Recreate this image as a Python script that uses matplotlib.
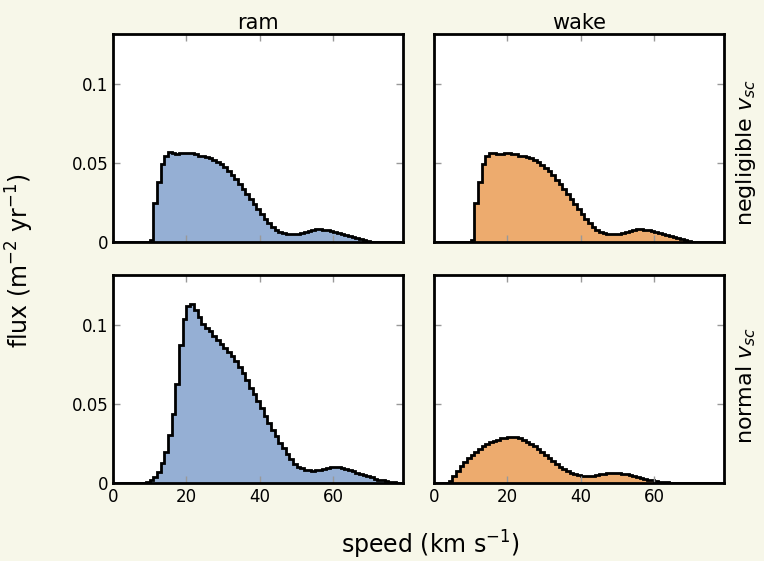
import numpy as np
import matplotlib
matplotlib.use('Agg')
import matplotlib.pyplot as plt

# flux per 1 km/s speed bin, bins start at 0 km/s
flux_neg_ram = [0, 0, 0, 0, 0, 0, 0, 0, 0, 0,
                0.001, 0.0245, 0.038, 0.049, 0.0545, 0.0565, 0.056, 0.0558, 0.056, 0.0562,
                0.0562, 0.056, 0.0555, 0.0545, 0.054, 0.0537, 0.053, 0.052, 0.0507, 0.049,
                0.0472, 0.045, 0.042, 0.0395, 0.0365, 0.0335, 0.030, 0.027, 0.024, 0.021,
                0.0175, 0.0145, 0.0118, 0.0093, 0.0075, 0.0062, 0.0055, 0.005, 0.0048, 0.0048,
                0.005, 0.0055, 0.0062, 0.0072, 0.0078, 0.008, 0.008, 0.0078, 0.0075, 0.007,
                0.0066, 0.006, 0.0053, 0.0046, 0.0038, 0.003, 0.0023, 0.0016, 0.001, 0.0006,
                0.0003, 0.0001, 0, 0, 0, 0, 0, 0, 0]
flux_neg_wake = [0, 0, 0, 0, 0, 0, 0, 0, 0, 0,
                 0.001, 0.0245, 0.038, 0.049, 0.0545, 0.0562, 0.056, 0.0558, 0.0558, 0.056,
                 0.056, 0.0558, 0.0553, 0.0545, 0.054, 0.0535, 0.0528, 0.0518, 0.0505, 0.0488,
                 0.047, 0.0448, 0.042, 0.0393, 0.0363, 0.0333, 0.030, 0.027, 0.024, 0.021,
                 0.0175, 0.0145, 0.0118, 0.0093, 0.0075, 0.0062, 0.0055, 0.005, 0.0048, 0.0048,
                 0.005, 0.0055, 0.0062, 0.0072, 0.0078, 0.008, 0.008, 0.0078, 0.0075, 0.007,
                 0.0066, 0.006, 0.0053, 0.0046, 0.0038, 0.003, 0.0023, 0.0016, 0.001, 0.0006,
                 0.0003, 0.0001, 0, 0, 0, 0, 0, 0, 0]
flux_norm_ram = [0, 0, 0, 0, 0, 0, 0, 0, 0, 0.0005,
                 0.002, 0.004, 0.007, 0.0125, 0.0198, 0.030, 0.0437, 0.0627, 0.0873, 0.1036,
                 0.1116, 0.113, 0.1095, 0.105, 0.1005, 0.098, 0.096, 0.093, 0.0905, 0.0875,
                 0.085, 0.0825, 0.080, 0.077, 0.0735, 0.0695, 0.065, 0.060, 0.056, 0.0515,
                 0.0473, 0.0425, 0.0378, 0.0335, 0.0297, 0.0255, 0.022, 0.0185, 0.015, 0.012,
                 0.0102, 0.0092, 0.0084, 0.008, 0.0078, 0.008, 0.0085, 0.009, 0.0097, 0.0101,
                 0.0103, 0.0101, 0.0097, 0.009, 0.0082, 0.0074, 0.0066, 0.0058, 0.005, 0.0043,
                 0.0035, 0.0028, 0.0021, 0.0016, 0.0011, 0.0008, 0.0005, 0.0003, 0.0002]
flux_norm_wake = [0, 0, 0, 0, 0.001, 0.0044, 0.0078, 0.0108, 0.013, 0.0155,
                  0.0175, 0.0195, 0.0215, 0.0232, 0.0246, 0.0257, 0.0266, 0.0274, 0.0281, 0.0287,
                  0.0291, 0.0293, 0.0289, 0.0282, 0.0272, 0.0262, 0.0248, 0.0232, 0.0215, 0.0197,
                  0.0178, 0.0158, 0.0139, 0.012, 0.0103, 0.0088, 0.0075, 0.0064, 0.0056, 0.005,
                  0.0046, 0.0044, 0.0044, 0.0046, 0.005, 0.0055, 0.0059, 0.0062, 0.0064, 0.0065,
                  0.0063, 0.006, 0.0055, 0.005, 0.0044, 0.0038, 0.0032, 0.0026, 0.0021, 0.0016,
                  0.0012, 0.0009, 0.0006, 0.0004, 0.0002, 0, 0, 0, 0, 0,
                  0, 0, 0, 0, 0, 0, 0, 0, 0]

col_titles = ['ram', 'wake']
row_titles = ['negligible $v_{sc}$', 'normal $v_{sc}$']
row_label_y = [0.43, 0.47]
colors = ['#95afd4', '#edab6e']
bg = '#f7f7e9'

plt.rcParams['mathtext.fontset'] = 'dejavusans'
plt.rcParams['font.family'] = 'DejaVu Sans'

fig = plt.figure(figsize=(7.64, 5.61), dpi=100, facecolor=bg)

lefts = [0.148, 0.568]
bottoms = [0.5686, 0.139]
w, h = 0.3796, 0.37

data = [[flux_neg_ram, flux_neg_wake], [flux_norm_ram, flux_norm_wake]]

for r in range(2):
    for c in range(2):
        ax = fig.add_axes([lefts[c], bottoms[r], w, h])
        vals = np.array(data[r][c])
        edges = np.arange(len(vals) + 1)
        ax.stairs(vals, edges, fill=True, color=colors[c], lw=0)
        ax.stairs(vals, edges, color='black', lw=2)
        ax.set_xlim(0, 79)
        ax.set_ylim(0, 0.131)
        ax.set_xticks([0, 20, 40, 60])
        ax.set_yticks([0, 0.05, 0.1])
        ax.set_yticklabels(['0', '0.05', '0.1'])
        ax.tick_params(direction='in', top=True, right=True, length=5,
                       width=1, color='#999999', labelsize=12, labelcolor='black')
        for s in ax.spines.values():
            s.set_linewidth(2)
            s.set_color('black')
        if r == 0:
            ax.set_xticklabels([])
            ax.set_title(col_titles[c], fontsize=15, pad=4)
        if c == 1:
            ax.set_yticklabels([])
            ax.text(1.035, row_label_y[r], row_titles[r], transform=ax.transAxes,
                    rotation=90, ha='left', va='center', fontsize=16)

fig.text(0.026, 0.535, 'flux (m$^{-2}$ yr$^{-1}$)', rotation=90, ha='center',
         va='center', fontsize=17)
fig.text(0.563, 0.028, 'speed (km s$^{-1}$)', ha='center', va='center', fontsize=17)

fig.savefig('out.png', dpi=100, facecolor=bg)
